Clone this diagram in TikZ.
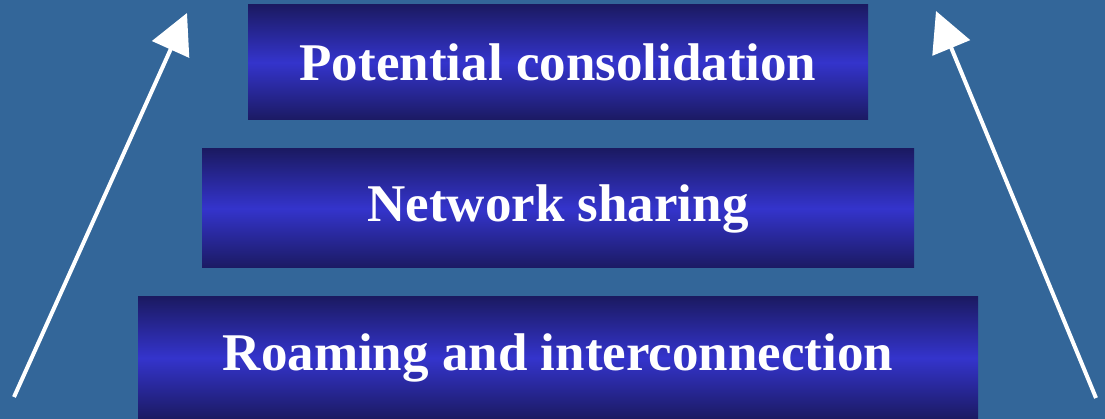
\documentclass[tikz,border=0pt]{standalone}
\usepackage{fontspec}
\setmainfont{Liberation Serif}
\usetikzlibrary{arrows.meta}
\definecolor{bg}{HTML}{336699}
\definecolor{barEdge}{HTML}{1B1A62}
\definecolor{barMid}{HTML}{3434CC}
\tikzset{
  bar/.style={inner sep=0pt, shading=axis, top color=barEdge, bottom color=barEdge, middle color=barMid,
    font=\bfseries\fontsize{53}{58}\selectfont, text=white},
  rise/.style={draw=white, line width=4pt, -{Triangle[length=40pt,width=40pt]}}
}
\begin{document}
\begin{tikzpicture}[x=1pt,y=-1pt]
  \fill[bg] (0,0) rectangle (1105,419);
  \useasboundingbox (0,0) rectangle (1105,419);
  % three stacked bars
  \node[bar, minimum width=620pt, minimum height=115pt] (top) at (558,62.5) {Potential consolidation};
  \node[bar, minimum width=712pt, minimum height=119pt] (mid) at (558,208.5) {Network sharing};
  \node[bar, minimum width=840pt, minimum height=122pt] (low) at (558,358) {Roaming and interconnection};
  % side arrows
  \coordinate (lfoot) at (14,397);
  \coordinate (lhead) at (187,13);
  \coordinate (rfoot) at (1096,398);
  \coordinate (rhead) at (936,11);
  \draw[rise] (lfoot) -- (lhead);
  \draw[rise] (rfoot) -- (rhead);
\end{tikzpicture}
\end{document}
